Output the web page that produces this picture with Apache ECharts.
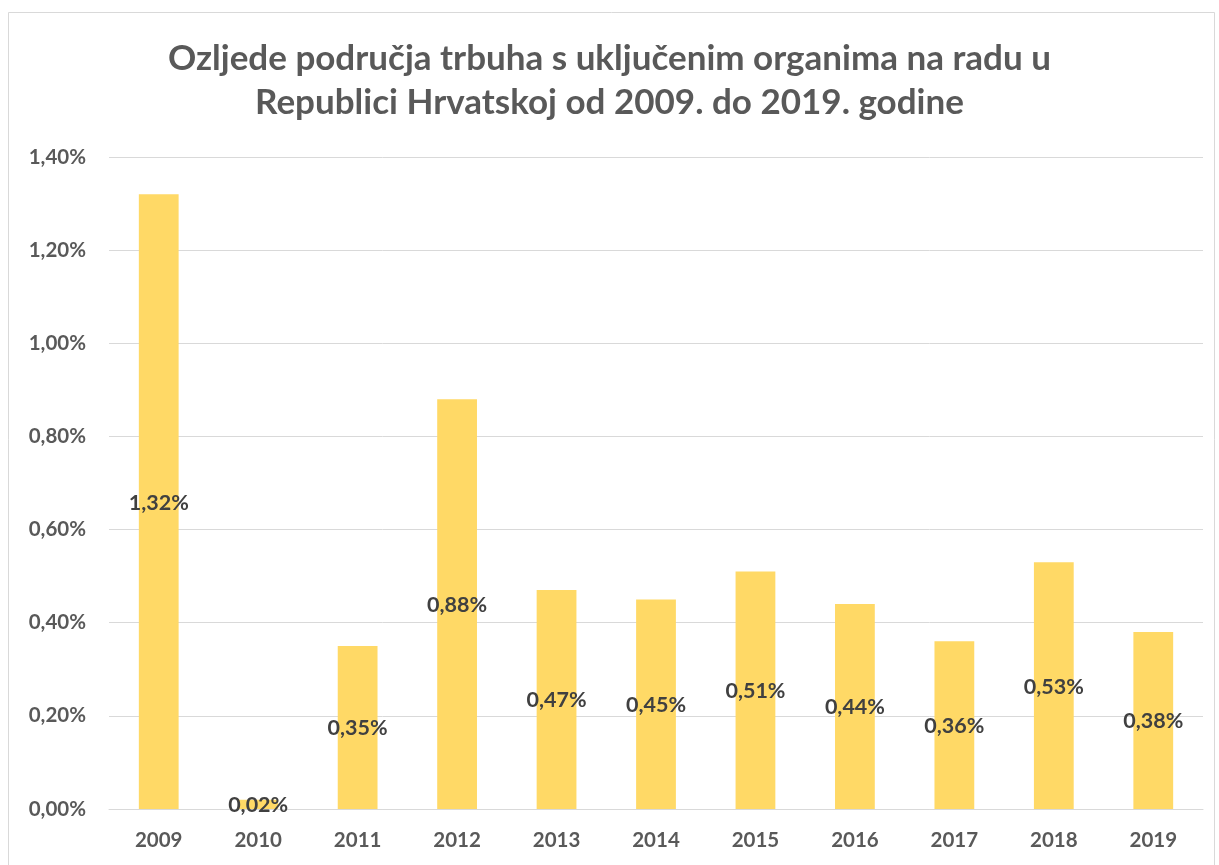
<!DOCTYPE html>
<html>
<head>
<meta charset="utf-8">
<script src="https://cdn.jsdelivr.net/npm/echarts@6/dist/echarts.min.js"></script>
<style>
  html, body { margin: 0; padding: 0; background: #fff; }
  #main { width: 1219px; height: 865px; }
</style>
</head>
<body>
<div id="main"></div>
<script>
var years = ['2009', '2010', '2011', '2012', '2013', '2014', '2015', '2016', '2017', '2018', '2019'];
var shares = [1.32, 0.02, 0.35, 0.88, 0.47, 0.45, 0.51, 0.44, 0.36, 0.53, 0.38];
var yTicks = [0, 0.2, 0.4, 0.6, 0.8, 1.0, 1.2, 1.4];

function pct(v) {
    return v.toFixed(2).replace('.', ',') + '%';
}

var myChart = echarts.init(document.getElementById('main'));

var option = {
    backgroundColor: '#fff',
    textStyle: { fontFamily: 'Lato' },
    graphic: [{
        type: 'rect',
        shape: { x: 8.5, y: 12.5, width: 1206, height: 860 },
        style: { fill: 'none', stroke: '#d9d9d9', lineWidth: 1 },
        silent: true
    }],
    title: {
        text: 'Ozljede područja trbuha s uključenim organima na radu u\nRepublici Hrvatskoj od 2009. do 2019. godine',
        left: 'center',
        top: 32,
        textStyle: {
            fontFamily: 'Lato',
            fontWeight: 'bold',
            fontSize: 35,
            lineHeight: 44,
            color: '#595959'
        }
    },
    grid: { left: 109, right: 16, top: 157, bottom: 56 },
    xAxis: {
        type: 'category',
        data: years,
        axisTick: { show: false },
        axisLine: { lineStyle: { color: '#d9d9d9', width: 1 } },
        axisLabel: {
            color: '#595959',
            fontWeight: 'bold',
            fontSize: 20.5,
            margin: 21
        }
    },
    yAxis: {
        type: 'value',
        min: yTicks[0],
        max: yTicks[yTicks.length - 1],
        interval: 0.2,
        axisLine: { show: false },
        axisTick: { show: false },
        splitLine: { lineStyle: { color: '#d9d9d9', width: 1 } },
        axisLabel: {
            color: '#595959',
            fontWeight: 'bold',
            fontSize: 20.5,
            margin: 23,
            formatter: function (v) { return pct(v); }
        }
    },
    series: [{
        type: 'bar',
        data: shares,
        barWidth: '40%',
        itemStyle: { color: '#FFD966' },
        label: {
            show: true,
            position: 'inside',
            offset: [0, 1],
            color: '#404040',
            fontWeight: 'bold',
            fontSize: 21.5,
            fontFamily: 'Lato',
            formatter: function (p) { return pct(p.value); }
        }
    }]
};

myChart.setOption(option);
</script>
</body>
</html>
